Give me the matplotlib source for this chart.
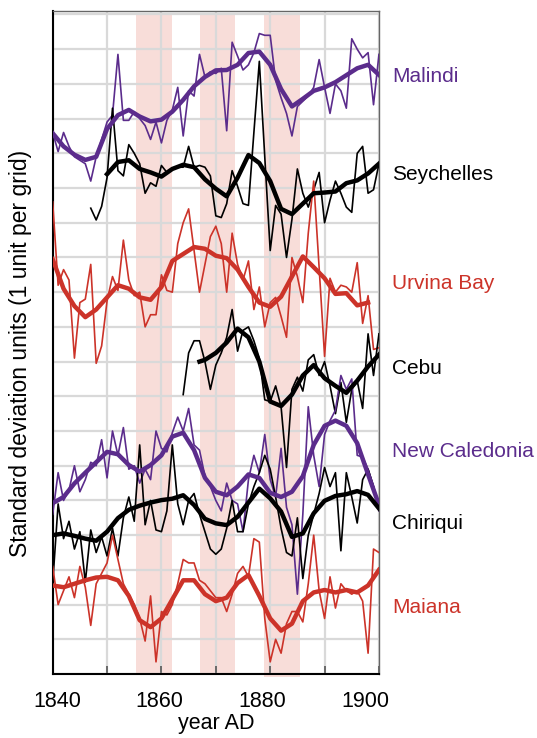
import numpy as np
import matplotlib.pyplot as plt
from matplotlib.patches import Rectangle

plt.rcParams['font.family'] = ['Liberation Sans', 'DejaVu Sans']

# annual records, plotted in grid units (1 unit = 1 standard deviation)
years = np.arange(1840, 1901)
even_years = np.arange(1840, 1901, 2)

malindi = [15.6, 15.05, 15.6, 15.2, 14.9, 14.8, 14.7, 14.2, 14.9, 15.4,
           15.9, 16.1, 17.85, 15.95, 15.95, 16.2, 16.0, 15.8, 15.4, 15.9,
           15.3, 15.95, 16.25, 16.9, 15.5, 16.8, 16.65, 17.85, 17.2, 17.35,
           17.3, 17.45, 15.65, 18.2, 17.8, 17.4, 17.55, 17.9, 18.45, 18.4,
           18.4, 17.1, 16.6, 16.15, 15.5, 16.35, 16.5, 16.65, 16.9, 17.7,
           16.9, 16.15, 17.0, 16.8, 16.3, 18.3, 18.0, 17.75, 17.9, 16.4,
           17.85]
malindi_smooth = [15.58, 15.2, 14.96, 14.81, 14.9, 15.7, 16.1, 16.25, 16.06, 15.92,
                  15.97, 16.2, 16.54, 16.93, 17.2, 17.39, 17.4, 17.55, 17.89, 17.93,
                  17.55, 16.85, 16.35, 16.57, 16.8, 16.9, 17.05, 17.25, 17.45, 17.55,
                  17.26]

seychelles_years = np.arange(1847, 1901)
seychelles = [13.42, 13.08, 13.47, 14.3, 16.3, 14.5, 14.35, 15.25, 15.0, 14.7,
              13.85, 14.15, 14.05, 14.65, 14.45, 14.55, 14.6, 14.6, 15.2, 14.6,
              14.65, 14.6, 14.35, 13.2, 13.15, 13.55, 14.5, 14.05, 13.55, 13.5,
              15.6, 17.65, 14.9, 12.2, 13.5, 13.25, 12.0, 13.1, 14.55, 13.85,
              13.45, 13.95, 14.45, 13.0, 13.65, 14.2, 13.85, 13.45, 13.3, 15.0,
              15.2, 13.85, 13.95, 14.7]
seychelles_smooth_years = np.arange(1850, 1901, 2)
seychelles_smooth = [14.4, 14.75, 14.8, 14.55, 14.45, 14.33, 14.55, 14.67, 14.6, 14.25,
                     13.98, 13.76, 14.3, 14.95, 14.72, 14.2, 13.4, 13.25, 13.55, 13.85,
                     13.87, 13.9, 14.14, 14.22, 14.42, 14.7]

urvina = [13.6, 11.2, 11.65, 11.35, 9.1, 10.7, 10.8, 11.8, 8.95, 9.45,
          10.75, 11.45, 11.05, 12.5, 11.35, 10.9, 11.0, 10.0, 10.35, 10.35,
          11.5, 11.05, 11.0, 12.4, 13.0, 13.4, 12.2, 11.0, 11.8, 12.6,
          12.9, 12.4, 11.0, 12.7, 11.8, 11.35, 11.9, 10.5, 11.15, 10.0,
          10.7, 10.85, 10.3, 9.7, 12.0, 11.45, 10.7, 12.7, 14.2, 11.7,
          9.15, 11.4, 11.0, 11.2, 11.15, 11.0, 11.85, 10.1, 10.9, 9.35,
          9.4]
urvina_smooth_years = np.arange(1840, 1899, 2)
urvina_smooth = [11.95, 11.1, 10.6, 10.28, 10.5, 10.85, 11.2, 11.1, 10.85, 10.78,
                 11.15, 11.9, 12.1, 12.3, 12.25, 12.05, 11.98, 11.65, 11.15, 10.7,
                 10.58, 10.87, 11.45, 12.03, 11.72, 11.4, 10.95, 10.97, 10.62, 10.7]

cebu_years = np.arange(1864, 1901)
cebu = [8.05, 9.25, 9.6, 9.6, 9.0, 8.2, 8.9, 9.25, 9.7, 10.5,
        9.3, 9.9, 10.0, 9.6, 9.1, 7.9, 7.85, 8.3, 7.7, 5.95,
        8.2, 8.55, 8.15, 9.05, 9.2, 8.6, 9.0, 8.3, 7.5, 8.4,
        7.25, 8.2, 8.45, 7.65, 9.8, 8.6, 9.8]
cebu_smooth_years = np.r_[1867, np.arange(1868, 1901, 2)]
cebu_smooth = [9.0, 9.05, 9.25, 9.55, 9.95, 9.7, 9.0, 7.85, 7.72, 8.05,
               8.6, 8.9, 8.52, 8.3, 8.1, 8.45, 8.86, 9.2]

new_caledonia = [4.6, 5.8, 5.0, 5.3, 6.0, 5.25, 5.6, 6.1, 6.0, 6.75,
                 5.65, 7.0, 6.3, 7.1, 5.9, 6.0, 5.5, 5.9, 5.6, 7.0,
                 6.5, 6.4, 6.95, 7.4, 7.0, 7.65, 6.6, 6.45, 5.7, 5.4,
                 5.0, 4.7, 5.5, 5.0, 4.9, 4.1, 5.6, 6.3, 5.8, 6.9,
                 5.6, 5.1, 6.5, 4.8, 4.3, 2.3, 4.6, 7.7, 6.3, 5.4,
                 6.9, 7.3, 7.6, 8.6, 8.2, 8.5, 6.3, 6.25, 5.9, 5.4,
                 4.7]
new_caledonia_smooth = [4.92, 5.1, 5.49, 5.8, 6.1, 6.4, 6.33, 6.02, 5.83, 6.02,
                        6.3, 6.84, 6.95, 6.45, 5.65, 5.25, 5.15, 5.4, 5.75, 5.65,
                        5.22, 5.1, 5.25, 5.7, 6.6, 7.15, 7.3, 7.15, 6.65, 5.75,
                        4.87]

chiriqui = [2.6, 4.9, 3.9, 4.4, 3.6, 4.1, 2.65, 4.15, 3.5, 3.95,
            3.4, 4.2, 3.4, 4.5, 5.1, 4.4, 6.6, 4.3, 5.0, 4.15,
            4.1, 4.7, 6.6, 4.9, 4.3, 5.0, 5.2, 4.6, 4.1, 3.6,
            3.45, 3.6, 4.2, 5.0, 4.1, 4.1, 4.9, 5.4, 5.8, 6.3,
            5.9, 5.1, 4.2, 3.5, 3.4, 4.5, 2.75, 4.0, 4.6, 5.2,
            5.95, 5.4, 5.8, 3.55, 5.8, 5.1, 4.35, 5.6, 5.9, 5.4,
            4.8]
chiriqui_smooth = [4.0, 4.05, 3.98, 3.9, 3.84, 4.1, 4.49, 4.73, 4.85, 4.94,
                   5.01, 5.05, 5.15, 4.87, 4.47, 4.34, 4.29, 4.53, 4.94, 5.34,
                   5.06, 4.68, 3.95, 4.05, 4.63, 4.99, 5.13, 5.18, 5.27, 5.16,
                   4.77]

maiana = [3.1, 2.0, 2.4, 2.8, 2.2, 3.1, 2.5, 1.4, 2.6, 2.9,
          3.2, 4.0, 3.3, 2.6, 2.3, 2.0, 1.6, 0.95, 2.25, 0.35,
          1.8, 1.7, 2.0, 2.6, 3.3, 3.2, 3.2, 2.7, 2.6, 2.4,
          2.2, 2.2, 1.8, 2.3, 2.9, 3.1, 2.8, 3.9, 3.8, 1.6,
          0.35, 1.0, 0.6, 1.45, 1.8, 1.8, 1.5, 2.6, 4.0, 2.4,
          1.6, 2.8, 1.9, 2.6, 2.4, 2.3, 2.4, 2.1, 0.6, 3.6,
          3.5]
maiana_smooth = [2.55, 2.5, 2.6, 2.7, 2.78, 2.8, 2.7, 2.25, 1.55, 1.35,
                 1.6, 2.15, 2.7, 2.7, 2.3, 2.1, 2.2, 2.62, 2.85, 2.25,
                 1.6, 1.25, 1.45, 2.1, 2.35, 2.42, 2.35, 2.42, 2.35, 2.55,
                 3.0]

names = ['Malindi', 'Seychelles', 'Urvina Bay', 'Cebu',
         'New Caledonia', 'Chiriqui', 'Maiana']

# El Nino periods shaded in pink
events = [(1855.3, 1861.9), (1867.1, 1873.6), (1878.8, 1885.4)]

# year labels sit a little off the decade gridlines
year_labels = ['1840', '1860', '1880', '1900']
year_label_pos = [1840.8, 1859.7, 1878.6, 1897.5]

purple = '#5b2c8c'
red = '#cc3329'
black = '#000000'

series = [
    (years, malindi, even_years, malindi_smooth, purple),
    (seychelles_years, seychelles, seychelles_smooth_years, seychelles_smooth, black),
    (years, urvina, urvina_smooth_years, urvina_smooth, red),
    (cebu_years, cebu, cebu_smooth_years, cebu_smooth, black),
    (years, new_caledonia, even_years, new_caledonia_smooth, purple),
    (years, chiriqui, even_years, chiriqui_smooth, black),
    (years, maiana, even_years, maiana_smooth, red),
]
label_y = [17.2, 14.4, 11.24, 8.79, 6.4, 4.35, 1.93]

fig = plt.figure(figsize=(5.37, 7.38), dpi=100)
ax = fig.add_axes([0.0981, 0.0867, 0.6076, 0.8984])

ax.set_xlim(1840, 1900)
ax.set_ylim(0, 19.1)

for i, (x0, x1) in enumerate(events):
    bottom = -0.1 if i == 2 else 0
    ax.add_patch(Rectangle((x0, bottom), x1 - x0, 19 - bottom,
                           facecolor='#f8ddd9', edgecolor='none',
                           zorder=0, clip_on=False))

for (x, y, xs, ys, c), name, ly in zip(series, names, label_y):
    ax.plot(x, y, color=c, lw=1.2, zorder=3)
    ax.plot(xs, ys, color=c, lw=3.2, zorder=4, solid_joinstyle='round')
    ax.text(1.04, ly, name, color=c, fontsize=15, va='center', ha='left',
            transform=ax.get_yaxis_transform(), clip_on=False)

ax.set_axisbelow(True)
ax.set_yticks(range(0, 20))
ax.set_yticklabels([])
ax.tick_params(axis='y', length=0)

ax.set_xticks(range(1840, 1901, 10))
ax.set_xticklabels([])
ax.tick_params(axis='x', which='major', direction='in', length=6, width=1.2,
               color='#555555')
ax.set_xticks(year_label_pos, minor=True)
ax.set_xticklabels(year_labels, minor=True)
ax.tick_params(axis='x', which='minor', length=0, pad=12, labelsize=15.5)
ax.grid(True, which='major', color='#d9d9d9', lw=1.6)

for side in ['left', 'bottom']:
    ax.spines[side].set_color('black')
    ax.spines[side].set_linewidth(1.5)
for side in ['top', 'right']:
    ax.spines[side].set_color('#666666')
    ax.spines[side].set_linewidth(1.0)

ax.set_ylabel('Standard deviation units (1 unit per grid)', fontsize=16.5)
ax.yaxis.set_label_coords(-0.063, 0.483)
ax.set_xlabel('year AD', fontsize=15.5, labelpad=1)

fig.savefig('out.png', dpi=100)
